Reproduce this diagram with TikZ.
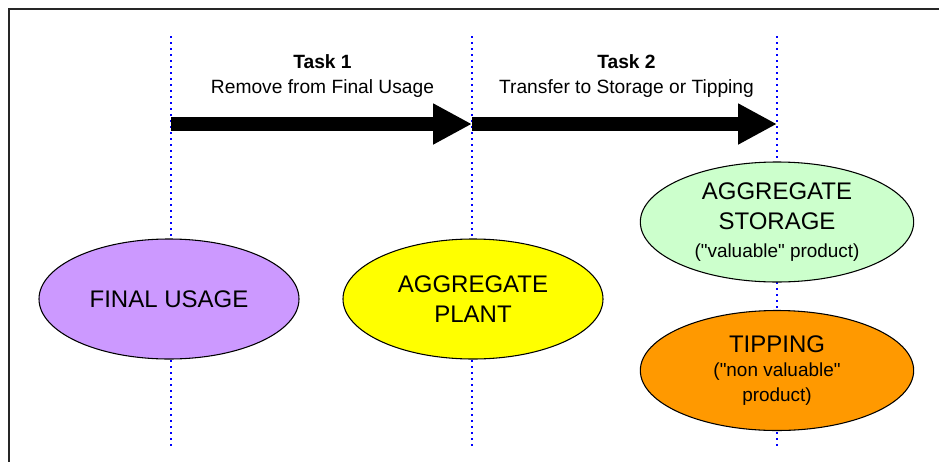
\documentclass[tikz,border=0pt]{standalone}
\usepackage{fontspec}
\setmainfont{Liberation Sans}
\usetikzlibrary{shapes.geometric,arrows.meta}
\definecolor{purpfill}{HTML}{CC99FF}
\definecolor{yelfill}{HTML}{FFFF00}
\definecolor{grnfill}{HTML}{CCFFCC}
\definecolor{orafill}{HTML}{FF9900}
\definecolor{dotblue}{HTML}{0000FF}
\tikzset{
  bigtext/.style={font=\fontsize{18}{22.5}\selectfont},
  oval/.style={ellipse, draw=black, line width=0.8pt, inner sep=0pt, align=center, minimum height=90pt},
  guide/.style={dotblue, line width=2pt, dash pattern=on 1.6pt off 2.9pt},
  bigarrow/.style={line width=10pt, line cap=butt, -{Triangle[length=29.25pt, width=28.8pt]}},
  tasktext/.style={font=\fontsize{14.4}{19}\selectfont, align=center},
  framepen/.style={black!85, line width=1.5pt},
}
\newcommand{\smalltxt}{\fontsize{14.2}{16}\selectfont}
\newcommand{\dq}{\textquotedbl}
\begin{document}
\begin{tikzpicture}[x=0.75pt, y=-0.75pt]
\useasboundingbox (0,0) rectangle (939,461);
% frame
\coordinate (fc) at (9,9);
\coordinate (fr) at (945,9);
\coordinate (fb) at (9,470);
\draw[framepen] (fr) -- (fc) -- (fb);
% guide lines
\coordinate (t1) at (171,36); \coordinate (b1) at (171,446);
\coordinate (t2) at (472,36); \coordinate (b2) at (472,446);
\coordinate (t3) at (777,36); \coordinate (b3) at (777,446);
\draw[guide] (t1) -- (b1);
\draw[guide] (t2) -- (b2);
\draw[guide] (t3) -- (b3);
% arrows
\coordinate (a1) at (171,124);
\coordinate (a2) at (472,124);
\coordinate (a3) at (777,124);
\draw[bigarrow] (a1) -- (a2);
\draw[bigarrow] (a2) -- (a3);
% task labels
\node[tasktext] (task1) at (322.5,76) {\textbf{Task 1}\\Remove from Final Usage};
\node[tasktext] (task2) at (626.5,76) {\textbf{Task 2}\\Transfer to Storage or Tipping};
% ellipses
\node[oval, fill=purpfill, minimum width=195pt, bigtext] (final) at (169,299) {FINAL USAGE};
\node[oval, fill=yelfill, minimum width=195pt, bigtext] (plant) at (473,299) {AGGREGATE\\PLANT};
\node[oval, fill=grnfill, minimum width=205pt, bigtext] (storage) at (777,222) {AGGREGATE\\STORAGE\\[-2pt]{\smalltxt (\dq valuable\dq{} product)}};
\node[oval, fill=orafill, minimum width=205pt, bigtext] (tipping) at (777,370.5) {TIPPING\\[-4pt]{\smalltxt (\dq non valuable\dq}\\[-4pt]{\smalltxt product)}};
\end{tikzpicture}
\end{document}
